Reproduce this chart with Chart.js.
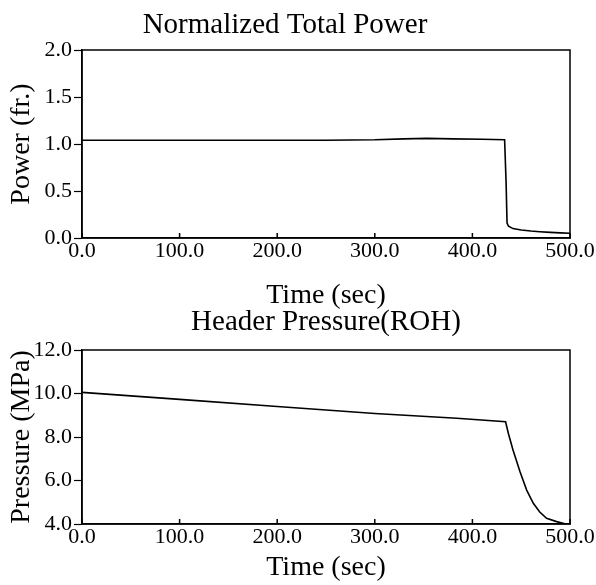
<!DOCTYPE html>
<html lang="en">
<head>
  <meta charset="UTF-8">
  <title>Normalized Total Power / Header Pressure</title>
  <script src="https://cdn.jsdelivr.net/npm/chart.js"></script>
  <style>
    body {
      background-color: #ffffff;
      margin: 0;
      padding: 0;
      width: 596px;
      height: 585px;
      position: relative;
      overflow: hidden;
    }

    .box {
      position: absolute;
      left: 0;
      width: 596px;
    }
  </style>
</head>
<body>

<div class="box" style="top:0;height:312px"><canvas id="powerChart" width="596" height="312"></canvas></div>
<div class="box" style="top:300px;height:285px"><canvas id="pressureChart" width="596" height="285"></canvas></div>

<script>
  // Normalized total power (fraction) vs time (sec)
  const powerTime  = [0, 50, 100, 150, 200, 250, 300, 330, 353, 380, 410, 433, 434.5, 435.5, 437, 441.6, 450, 460, 469, 480, 490, 500];
  const powerValue = [1.04, 1.04, 1.04, 1.04, 1.04, 1.04, 1.045, 1.055, 1.06, 1.055, 1.05, 1.045, 0.6, 0.16, 0.125, 0.10, 0.085, 0.074, 0.067, 0.06, 0.055, 0.05];

  // Header pressure (MPa) vs time (sec)
  const pressureTime  = [0, 100, 200, 300, 384, 434, 436.8, 441.6, 448.8, 455.6, 462.4, 469, 476, 486.3, 498.3, 500];
  const pressureValue = [10.05, 9.73, 9.40, 9.08, 8.86, 8.70, 8.17, 7.40, 6.40, 5.56, 4.95, 4.55, 4.26, 4.11, 3.97, 3.94];

  const timeTicks = [0, 100, 200, 300, 400, 500];

  const serif = "'Liberation Serif', 'Times New Roman', serif";

  // frame round the plot area and short inward ticks on the time axis
  const framePlugin = {
    id: 'frame',
    afterDraw(chart) {
      const { ctx, chartArea: a } = chart;
      const xs = chart.scales.x;
      ctx.save();
      ctx.strokeStyle = '#000';
      ctx.lineWidth = 1.5;
      ctx.strokeRect(a.left, a.top, a.right - a.left, a.bottom - a.top);
      ctx.beginPath();
      xs.ticks.forEach(t => {
        const px = xs.getPixelForValue(t.value);
        ctx.moveTo(px, a.bottom);
        ctx.lineTo(px, a.bottom - 5);
      });
      ctx.stroke();
      ctx.restore();
    }
  };

  const makeChart = (id, cfg) => {
    const toPoints = (xs, ys) => xs.map((x, i) => ({ x, y: ys[i] }));
    return new Chart(document.getElementById(id).getContext('2d'), {
      type: 'line',
      data: {
        datasets: [{
          data: toPoints(cfg.xs, cfg.ys),
          borderColor: '#000',
          borderWidth: 1.6,
          pointRadius: 0,
          tension: 0,
          fill: false
        }]
      },
      options: {
        responsive: false,
        animation: false,
        events: [],
        layout: { padding: { left: 0, right: 26, top: 0, bottom: 0 } },
        plugins: {
          legend: { display: false },
          tooltip: { enabled: false },
          title: {
            display: true,
            text: cfg.title,
            color: '#000',
            fullSize: cfg.titleFull,
            font: { family: serif, size: 29, weight: 'normal', lineHeight: 1.2 },
            padding: cfg.titlePad
          }
        },
        scales: {
          x: {
            type: 'linear',
            min: 0,
            max: 500,
            afterBuildTicks: s => { s.ticks = timeTicks.map(v => ({ value: v })); },
            afterFit: s => { s.height = cfg.xHeight; },
            grid: { display: true, drawOnChartArea: false, drawTicks: false },
            border: { display: true, color: '#000', width: 1.5 },
            ticks: {
              color: '#000',
              padding: 0,
              autoSkip: false,
              maxRotation: 0,
              font: { family: serif, size: 22 },
              callback: v => v.toFixed(1)
            },
            title: {
              display: true,
              text: 'Time (sec)',
              color: '#000',
              font: { family: serif, size: 28, lineHeight: 1.2 },
              padding: { top: 0, bottom: cfg.xTitlePad }
            }
          },
          y: {
            min: cfg.yMin,
            max: cfg.yMax,
            afterBuildTicks: s => { s.ticks = cfg.yTicks.map(v => ({ value: v })); },
            afterFit: s => { s.width = 82; },
            grid: { display: true, drawOnChartArea: false, drawTicks: true, tickLength: 8, color: '#000', tickWidth: 1.2 },
            border: { display: true, color: '#000', width: 1.5 },
            ticks: {
              color: '#000',
              padding: 2,
              autoSkip: false,
              font: { family: serif, size: 22 },
              callback: v => v.toFixed(1)
            },
            title: {
              display: true,
              text: cfg.yLabel,
              color: '#000',
              font: { family: serif, size: 28, lineHeight: 1.2 },
              padding: { top: 5, bottom: 0 }
            }
          }
        }
      },
      plugins: [framePlugin]
    });
  };

  makeChart('powerChart', {
    xs: powerTime,
    ys: powerValue,
    title: 'Normalized Total Power',
    titleFull: true,
    titlePad: { top: 8, bottom: 7.2 },
    yLabel: 'Power (fr.)',
    yMin: 0,
    yMax: 2,
    yTicks: [0, 0.5, 1, 1.5, 2],
    xHeight: 74,
    xTitlePad: 0
  });

  makeChart('pressureChart', {
    xs: pressureTime,
    ys: pressureValue,
    title: 'Header Pressure(ROH)',
    titleFull: false,
    titlePad: { top: 5, bottom: 10.2 },
    yLabel: 'Pressure (MPa)',
    yMin: 4,
    yMax: 12,
    yTicks: [4, 6, 8, 10, 12],
    xHeight: 61,
    xTitlePad: 1
  });
</script>

</body>
</html>
